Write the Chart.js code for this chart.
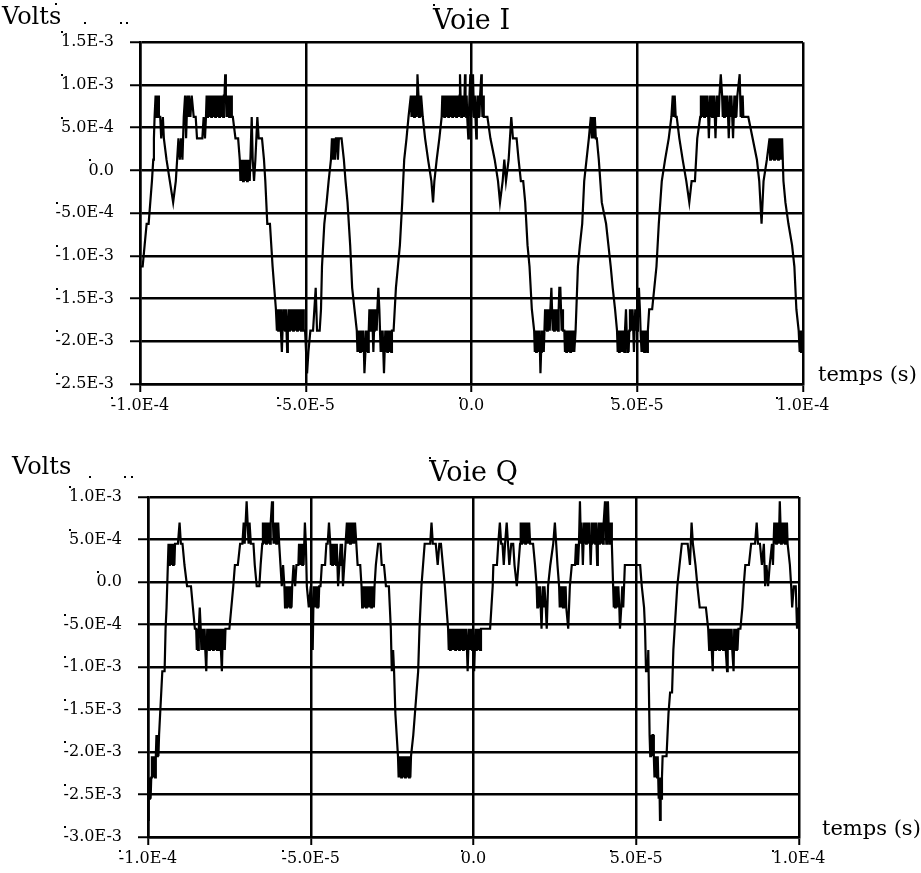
<!DOCTYPE html>
<html><head><meta charset="utf-8">
<script src="https://cdn.jsdelivr.net/npm/chart.js@4.4.1/dist/chart.umd.min.js"></script>
<style>
html,body{margin:0;padding:0;background:#fff;}
#wrap{position:relative;width:921px;height:873px;overflow:hidden;background:#fff;}
canvas{position:absolute;left:0;}
</style></head><body>
<div id="wrap">
<canvas id="cI" width="921" height="430" style="top:0px"></canvas>
<canvas id="cQ" width="921" height="443" style="top:430px"></canvas>
</div>
<script>
// ---- data: [time in microseconds, voltage in millivolts] ----
const xTickValues = [-1.0e-4, -5.0e-5, 0.0, 5.0e-5, 1.0e-4];
const yTickValuesI = [-2.5e-3, -2.0e-3, -1.5e-3, -1.0e-3, -5.0e-4, 0.0, 5.0e-4, 1.0e-3, 1.5e-3];
const yTickValuesQ = [-3.0e-3, -2.5e-3, -2.0e-3, -1.5e-3, -1.0e-3, -5.0e-4, 0.0, 5.0e-4, 1.0e-3];

const voieI = [
[-100.0,-1.125],[-99.2,-1.125],[-98.6,-0.875],[-98.0,-0.625],[-97.4,-0.625],[-96.9,-0.375],[-96.4,-0.125],[-96.0,0.125],[-95.8,0.375],[-95.6,0.625],
[-95.3,0.875],[-95.1,0.625],[-94.9,0.875],[-94.7,0.625],[-94.5,0.875],[-94.3,0.625],[-93.9,0.625],[-93.6,0.375],[-93.1,0.625],[-92.8,0.375],
[-92.0,0.125],[-91.0,-0.125],[-90.0,-0.375],[-89.2,-0.125],[-88.8,0.125],[-88.4,0.375],[-88.0,0.125],[-87.6,0.375],[-87.2,0.125],[-86.8,0.625],
[-86.4,0.875],[-86.1,0.375],[-85.7,0.875],[-85.4,0.625],[-85.2,0.875],[-84.8,0.625],[-84.4,0.875],[-83.8,0.625],[-83.2,0.625],[-82.8,0.375],
[-81.2,0.375],[-80.8,0.625],[-80.4,0.375],
[-80.1,0.625],[-79.9,0.875],[-79.7,0.625],[-79.5,0.875],[-79.3,0.625],[-79.1,0.875],[-78.9,0.625],[-78.7,0.875],[-78.5,0.625],[-78.3,0.875],
[-78.1,0.625],[-77.9,0.875],[-77.7,0.625],[-77.5,0.875],[-77.3,0.625],[-77.1,0.875],[-76.9,0.625],[-76.7,0.875],[-76.5,0.625],[-76.3,0.875],
[-76.1,0.625],[-75.9,0.875],[-75.7,0.625],[-75.5,0.875],[-75.3,0.625],[-75.1,0.875],[-74.9,0.625],[-74.7,0.875],[-74.5,0.875],[-74.3,1.125],
[-74.1,0.875],[-73.9,0.625],[-73.7,0.875],[-73.5,0.625],[-73.3,0.875],[-73.1,0.625],[-72.9,0.875],[-72.7,0.625],[-72.5,0.875],[-72.3,0.625],
[-72.0,0.625],[-71.2,0.375],[-70.4,0.375],
[-69.9,0.125],[-69.7,-0.125],[-69.5,0.125],[-69.3,-0.125],[-69.1,0.125],[-68.9,-0.125],[-68.7,0.125],[-68.5,-0.125],[-68.3,0.125],[-68.1,-0.125],
[-67.9,0.125],[-67.7,-0.125],[-67.5,0.125],[-67.3,-0.125],[-67.1,0.125],[-66.9,-0.125],[-66.7,0.125],
[-66.3,0.625],[-66.0,0.125],[-65.6,-0.125],[-65.2,0.125],[-64.9,0.375],[-64.6,0.625],[-64.2,0.375],[-63.2,0.375],[-62.6,0.125],[-62.2,-0.125],
[-61.6,-0.625],[-60.8,-0.625],[-60.0,-1.125],[-59.5,-1.375],[-59.0,-1.625],[-58.7,-1.875],
[-58.5,-1.625],[-58.3,-1.875],[-58.1,-1.625],[-57.9,-1.875],[-57.7,-1.625],[-57.5,-1.875],[-57.2,-2.125],[-57.0,-1.875],[-56.8,-1.625],[-56.6,-1.875],
[-56.4,-1.625],[-56.2,-1.875],[-56.0,-1.625],[-55.8,-1.875],[-55.6,-2.125],[-55.4,-1.875],[-55.2,-1.625],[-55.0,-1.875],[-54.8,-1.625],[-54.6,-1.875],
[-54.4,-1.625],[-54.2,-1.875],[-54.0,-1.625],[-53.8,-1.875],[-53.6,-1.625],[-53.4,-1.875],[-53.2,-1.625],[-53.0,-1.875],[-52.8,-1.625],[-52.6,-1.875],
[-52.4,-1.625],[-52.2,-1.875],[-52.0,-1.625],[-51.8,-1.875],[-51.6,-1.625],[-51.4,-1.875],[-51.2,-1.625],[-51.0,-1.875],[-50.8,-1.625],[-50.6,-1.875],
[-50.2,-1.875],[-49.6,-2.375],[-49.2,-2.125],[-48.6,-1.875],[-47.8,-1.875],[-47.4,-1.625],[-47.0,-1.375],[-46.6,-1.875],[-45.8,-1.875],[-45.4,-1.625],
[-45.1,-1.125],[-44.4,-0.625],[-43.7,-0.375],[-43.1,-0.125],[-42.4,0.125],[-42.1,0.375],[-41.8,0.125],[-41.5,0.375],[-41.2,0.125],[-40.9,0.375],
[-40.6,0.375],[-40.3,0.125],[-40.0,0.375],[-39.2,0.375],[-38.5,0.125],[-38.0,-0.125],[-37.4,-0.375],[-36.6,-0.875],[-36.0,-1.375],[-35.3,-1.625],
[-34.6,-1.875],
[-34.4,-2.125],[-34.2,-1.875],[-34.0,-2.125],[-33.8,-1.875],[-33.6,-2.125],[-33.4,-1.875],[-33.2,-2.125],[-33.0,-1.875],[-32.8,-2.125],[-32.6,-1.875],
[-32.3,-2.375],[-32.0,-2.125],[-31.8,-1.875],[-31.6,-2.125],[-31.4,-1.875],[-31.2,-2.125],[-31.0,-1.875],[-30.8,-1.625],[-30.6,-1.875],[-30.4,-1.625],
[-30.2,-1.875],[-30.0,-1.625],[-29.8,-1.875],[-29.6,-2.125],[-29.4,-1.875],[-29.2,-1.625],[-29.0,-1.875],[-28.8,-1.625],[-28.6,-1.875],[-28.4,-1.625],
[-28.1,-1.375],[-27.8,-1.625],[-27.6,-1.875],[-27.4,-2.125],[-27.2,-1.875],[-27.0,-2.125],[-26.8,-1.875],[-26.4,-2.375],[-26.2,-2.125],[-26.0,-1.875],
[-25.8,-2.125],[-25.6,-1.875],[-25.4,-2.125],[-25.2,-1.875],[-25.0,-2.125],[-24.8,-1.875],[-24.6,-2.125],[-24.4,-1.875],[-24.2,-2.125],[-24.0,-1.875],
[-23.5,-1.875],[-22.8,-1.375],[-22.2,-1.125],[-21.6,-0.875],[-20.9,-0.375],[-20.3,0.125],[-19.6,0.375],[-19.0,0.625],[-18.3,0.875],[-18.1,0.625],
[-17.9,0.875],[-17.7,0.625],[-17.5,0.875],[-17.3,0.625],[-17.1,0.875],[-16.9,0.625],[-16.7,0.875],[-16.5,0.625],[-16.3,1.125],[-16.0,0.875],
[-15.8,0.625],[-15.6,0.875],[-15.4,0.625],[-15.2,0.875],[-14.7,0.625],[-14.0,0.375],[-13.1,0.125],[-12.1,-0.125],[-11.6,-0.375],[-11.2,-0.125],
[-10.5,0.125],[-9.7,0.375],[-9.0,0.625],
[-8.8,0.875],[-8.6,0.625],[-8.4,0.875],[-8.2,0.625],[-8.0,0.875],[-7.8,0.625],[-7.6,0.875],[-7.4,0.625],[-7.2,0.875],[-7.0,0.625],
[-6.8,0.875],[-6.6,0.625],[-6.4,0.875],[-6.2,0.625],[-6.0,0.875],[-5.8,0.625],[-5.6,0.875],[-5.4,0.625],[-5.2,0.875],[-5.0,0.625],
[-4.8,0.875],[-4.6,0.625],[-4.4,0.875],[-4.2,0.625],[-4.0,0.875],[-3.8,0.625],[-3.6,0.875],[-3.47,1.125],[-3.3,0.875],[-3.1,0.625],
[-2.9,0.875],[-2.7,0.625],[-2.5,0.875],[-2.3,0.625],[-2.1,0.875],[-1.96,1.125],[-1.8,0.875],[-1.6,0.625],[-1.46,0.875],[-1.3,0.625],
[-1.1,0.625],[-0.96,0.375],[-0.8,0.625],[-0.6,0.875],[-0.36,1.125],[-0.2,0.875],[0.0,0.625],[0.2,0.875],[0.45,1.125],[0.6,0.875],
[0.8,0.625],[1.0,0.875],[1.2,0.625],[1.45,0.375],[1.6,0.625],[1.8,0.875],[2.0,0.625],[2.2,0.875],[2.4,0.625],[2.6,0.875],
[2.8,0.875],[2.97,1.125],[3.1,0.875],[3.3,0.625],[3.5,0.875],[3.7,0.625],[4.0,0.625],
[4.8,0.625],[5.7,0.375],[7.0,0.125],[8.0,-0.125],[8.6,-0.375],[9.4,-0.125],[9.9,0.125],[10.4,-0.125],[11.2,0.125],[12.0,0.625],
[12.5,0.375],[13.6,0.375],[14.2,0.125],[14.9,-0.125],[15.6,-0.125],[16.2,-0.375],[16.9,-0.875],[17.5,-1.125],[18.2,-1.625],[18.9,-1.875],
[19.1,-2.125],[19.3,-1.875],[19.5,-2.125],[19.7,-1.875],[19.9,-2.125],[20.1,-1.875],[20.3,-2.125],[20.5,-1.875],[20.8,-2.375],[21.0,-2.125],
[21.2,-1.875],[21.4,-2.125],[21.6,-1.875],[21.8,-2.125],[22.0,-1.875],[22.2,-1.625],[22.4,-1.875],[22.6,-1.625],[22.8,-1.875],[23.0,-1.625],
[23.2,-1.875],[23.4,-1.625],[23.6,-1.875],[23.8,-1.625],[24.1,-1.375],[24.3,-1.625],[24.5,-1.875],[24.7,-1.625],[24.9,-1.875],[25.1,-1.625],
[25.3,-1.875],[25.5,-1.625],[25.7,-1.875],[25.9,-1.625],[26.1,-1.875],[26.3,-1.625],[26.5,-1.375],[26.8,-1.375],[27.0,-1.625],[27.2,-1.875],
[27.4,-1.625],[27.6,-1.875],[28.0,-1.875],[28.2,-2.125],[28.4,-1.875],[28.6,-2.125],[28.8,-1.875],[29.0,-2.125],[29.2,-1.875],[29.4,-2.125],
[29.6,-1.875],[29.8,-2.125],[30.0,-1.875],[30.2,-2.125],[30.4,-1.875],[30.6,-2.125],[30.8,-1.875],[31.0,-2.125],[31.4,-1.875],
[32.1,-1.125],[32.7,-0.875],[33.4,-0.625],[34.0,-0.125],[34.7,0.125],[35.4,0.375],[36.0,0.625],[36.3,0.375],[36.6,0.625],[36.9,0.375],
[37.2,0.625],[37.5,0.375],[37.8,0.375],[38.4,0.125],[39.3,-0.375],[40.6,-0.625],[41.3,-0.875],[42.0,-1.125],[42.6,-1.375],[43.3,-1.625],
[43.9,-1.875],
[44.1,-2.125],[44.3,-1.875],[44.5,-2.125],[44.7,-1.875],[44.9,-2.125],[45.1,-1.875],[45.3,-2.125],[45.5,-1.875],[45.7,-2.125],[45.9,-1.875],
[46.1,-2.125],[46.3,-1.875],[46.6,-1.625],[46.8,-1.875],[47.0,-2.125],[47.2,-1.875],[47.4,-2.125],[47.6,-1.875],[47.8,-1.625],[48.0,-1.875],
[48.2,-1.625],[48.4,-1.875],[48.6,-1.625],[48.8,-1.875],[49.0,-2.125],[49.2,-1.875],[49.4,-1.625],[49.6,-1.875],[49.8,-1.625],[50.0,-1.875],
[50.2,-1.625],[50.5,-1.375],[50.8,-1.625],[51.0,-1.875],[51.3,-2.125],[51.5,-1.875],[51.7,-2.125],[51.9,-1.875],[52.1,-2.125],[52.3,-1.875],
[52.6,-2.125],[52.8,-1.875],[53.0,-2.125],[53.2,-1.875],[53.6,-1.625],
[54.5,-1.625],[55.8,-1.125],[56.5,-0.625],[57.4,-0.125],[58.4,0.125],[59.5,0.375],[60.3,0.625],[60.7,0.875],[61.0,0.625],[61.3,0.875],
[61.6,0.625],[61.9,0.625],[62.7,0.375],[63.7,0.125],[64.8,-0.125],[65.7,-0.375],[66.4,-0.125],[67.4,-0.125],[68.1,0.375],[69.0,0.625],
[69.2,0.875],[69.4,0.625],[69.6,0.875],[69.8,0.625],[70.0,0.875],[70.2,0.625],[70.4,0.875],[70.6,0.625],[70.8,0.875],[71.0,0.625],
[71.2,0.875],[71.6,0.375],[72.0,0.875],[72.2,0.625],[72.4,0.875],[72.6,0.625],[72.8,0.875],[73.0,0.625],[73.2,0.875],[73.6,0.375],
[74.0,0.875],[74.2,0.625],[74.4,0.875],[74.6,0.625],[74.8,0.875],[75.2,1.125],[75.6,0.875],[75.8,0.625],[76.0,0.875],[76.2,0.625],
[76.4,0.875],[76.6,0.625],[76.8,0.875],[77.0,0.625],[77.2,0.875],[77.6,0.375],[78.0,0.875],[78.2,0.625],[78.4,0.875],[78.9,0.375],
[79.3,0.875],[79.5,0.625],[79.7,0.875],[79.9,0.625],[80.2,0.875],[80.9,1.125],[81.2,0.625],[81.4,0.875],[81.6,0.625],[81.8,0.875],
[82.0,0.625],[82.2,0.625],
[83.5,0.625],[84.8,0.375],[86.1,0.125],[86.8,-0.125],[87.5,-0.625],[88.1,-0.125],[89.1,0.125],[89.9,0.375],
[90.1,0.125],[90.3,0.375],[90.5,0.125],[90.7,0.375],[90.9,0.125],[91.1,0.375],[91.3,0.125],[91.5,0.375],[91.7,0.125],[91.9,0.375],
[92.1,0.125],[92.3,0.375],[92.5,0.125],[92.7,0.375],[92.9,0.125],[93.1,0.375],[93.3,0.125],[93.7,0.375],
[94.1,-0.125],[94.7,-0.375],[95.6,-0.625],[96.7,-0.875],[97.4,-1.125],[98.0,-1.625],[98.7,-1.875],[99.0,-2.125],[99.2,-1.875],[99.4,-2.125],
[99.6,-1.875],[99.8,-2.125],[100.0,-1.875]
];

const voieQ = [
[-100.0,-2.80],[-99.8,-2.30],[-99.6,-2.55],[-99.4,-2.30],[-99.2,-2.55],[-99.0,-2.30],[-98.8,-2.05],[-98.6,-2.30],[-98.4,-2.05],[-98.2,-2.30],
[-98.0,-2.05],[-97.8,-2.30],[-97.6,-2.05],[-97.4,-1.80],[-97.2,-2.05],[-97.0,-1.80],[-96.8,-2.05],[-96.6,-1.80],[-96.4,-1.80],[-95.6,-1.05],
[-94.9,-1.05],[-94.6,-0.55],[-94.3,-0.30],[-93.9,0.20],[-93.7,0.45],[-93.5,0.20],[-93.3,0.45],[-93.1,0.20],[-92.9,0.45],[-92.7,0.20],
[-92.5,0.45],[-92.3,0.20],[-92.1,0.45],[-91.9,0.20],[-91.7,0.45],[-91.5,0.45],[-90.8,0.45],[-90.3,0.70],[-89.9,0.45],[-89.4,0.45],
[-88.8,0.20],[-88.0,-0.05],[-86.8,-0.05],[-86.2,-0.30],[-85.6,-0.55],
[-85.2,-0.55],[-85.0,-0.80],[-84.8,-0.55],[-84.6,-0.80],[-84.4,-0.55],[-84.1,-0.30],[-83.8,-0.55],[-83.6,-0.80],[-83.4,-0.55],[-83.2,-0.80],
[-83.0,-0.55],[-82.8,-0.80],[-82.6,-0.55],[-82.4,-0.80],[-82.1,-1.05],[-81.8,-0.55],[-81.6,-0.80],[-81.4,-0.55],[-81.2,-0.80],[-81.0,-0.55],
[-80.8,-0.80],[-80.6,-0.55],[-80.4,-0.80],[-80.2,-0.55],[-80.0,-0.80],[-79.8,-0.55],[-79.6,-0.80],[-79.4,-0.55],[-79.2,-0.80],[-79.0,-0.55],
[-78.8,-0.80],[-78.6,-0.55],[-78.4,-0.80],[-78.2,-0.55],[-78.0,-0.80],[-77.8,-0.55],[-77.6,-0.80],[-77.3,-1.05],[-77.0,-0.55],[-76.8,-0.80],
[-76.6,-0.55],[-76.4,-0.80],[-76.2,-0.55],
[-75.0,-0.55],[-74.4,-0.30],[-73.8,-0.05],[-73.3,0.20],[-72.4,0.20],[-71.7,0.45],[-71.0,0.45],[-70.6,0.70],[-70.3,0.45],[-70.0,0.70],
[-69.7,0.95],[-69.4,0.70],[-69.1,0.45],[-68.8,0.70],[-68.4,0.45],[-67.6,0.45],[-67.2,0.20],[-66.6,-0.05],[-65.8,-0.05],[-65.4,0.20],
[-64.9,0.45],
[-64.7,0.70],[-64.5,0.45],[-64.3,0.70],[-64.1,0.45],[-63.9,0.70],[-63.7,0.45],[-63.5,0.70],[-63.3,0.45],[-63.1,0.70],[-62.9,0.45],
[-62.7,0.70],[-62.5,0.45],[-62.3,0.70],[-61.9,0.95],[-61.6,0.70],[-61.4,0.45],[-61.2,0.70],[-61.0,0.45],[-60.8,0.70],[-60.6,0.45],
[-60.4,0.70],[-60.2,0.45],[-60.0,0.70],[-59.7,0.45],[-59.3,0.20],
[-58.9,-0.05],[-58.5,0.20],[-58.1,-0.05],[-57.9,-0.30],[-57.7,-0.05],[-57.5,-0.30],[-57.3,-0.05],[-57.1,-0.30],[-56.9,-0.05],[-56.7,-0.30],
[-56.5,-0.05],[-56.3,-0.30],[-56.1,-0.05],[-55.9,-0.30],[-55.7,-0.05],[-55.3,0.20],[-54.8,-0.05],[-54.4,0.20],[-53.8,0.20],[-53.6,0.45],
[-53.4,0.20],[-53.2,0.45],[-53.0,0.20],[-52.8,0.45],[-52.6,0.20],[-52.4,0.45],[-52.2,0.20],[-51.8,0.70],[-51.5,0.45],[-51.2,-0.05],
[-50.6,-0.30],[-50.0,-0.05],[-49.7,-0.30],[-49.4,-0.80],[-49.1,-0.05],[-48.8,-0.30],[-48.6,-0.05],[-48.4,-0.30],[-48.2,-0.05],[-48.0,-0.30],
[-47.8,-0.05],[-47.6,-0.30],[-47.4,-0.05],[-47.0,-0.05],[-46.6,0.20],[-45.6,0.20],[-45.2,0.45],[-44.8,0.45],[-44.4,0.70],[-44.0,0.45],
[-43.8,0.20],[-43.6,0.45],[-43.4,0.20],[-43.2,0.45],[-43.0,0.20],[-42.8,0.45],[-42.6,0.20],[-42.4,0.45],[-42.2,0.20],[-42.0,0.45],
[-41.6,-0.05],[-41.2,0.20],[-40.8,0.45],[-40.6,0.20],[-40.4,0.45],[-40.1,-0.05],[-39.7,0.20],[-39.3,0.45],[-38.9,0.70],[-38.7,0.45],
[-38.5,0.70],[-38.3,0.45],[-38.1,0.70],[-37.9,0.45],[-37.7,0.70],[-37.5,0.45],[-37.3,0.70],[-37.1,0.45],[-36.9,0.70],[-36.7,0.45],
[-36.4,0.70],[-36.0,0.45],[-35.6,0.20],[-34.8,0.20],[-34.4,-0.05],[-34.2,-0.30],[-34.0,-0.05],[-33.8,-0.30],[-33.6,-0.05],[-33.4,-0.30],
[-33.2,-0.05],[-33.0,-0.30],[-32.8,-0.05],[-32.6,-0.30],[-32.4,-0.05],[-32.2,-0.30],[-32.0,-0.05],[-31.8,-0.30],[-31.6,-0.05],[-31.4,-0.30],
[-31.2,-0.05],[-31.0,-0.30],[-30.8,-0.05],[-30.6,-0.30],[-30.4,-0.05],[-30.0,0.20],[-29.3,0.45],[-28.6,0.45],[-28.2,0.20],[-27.5,0.20],
[-26.9,-0.05],[-26.0,-0.05],[-25.7,-0.30],[-25.4,-0.55],[-25.1,-1.05],[-24.7,-0.80],[-24.4,-1.05],[-24.0,-1.55],[-23.6,-1.80],[-23.2,-2.05],
[-23.0,-2.30],[-22.8,-2.05],[-22.6,-2.30],[-22.4,-2.05],[-22.2,-2.30],[-22.0,-2.05],[-21.8,-2.30],[-21.6,-2.05],[-21.4,-2.30],[-21.2,-2.05],
[-21.0,-2.30],[-20.8,-2.05],[-20.6,-2.30],[-20.4,-2.05],[-20.2,-2.30],[-20.0,-2.05],[-19.8,-2.30],[-19.6,-2.05],[-19.4,-2.30],[-19.2,-2.05],
[-19.0,-2.05],[-18.5,-1.80],[-18.0,-1.55],[-17.5,-1.30],[-17.0,-1.05],[-16.6,-0.55],[-16.3,-0.30],[-16.0,-0.05],[-15.5,0.20],[-15.0,0.45],
[-13.9,0.45],[-13.3,0.45],[-12.9,0.70],[-12.5,0.45],[-11.6,0.45],[-11.0,0.20],[-10.5,0.45],[-10.0,0.45],[-9.4,0.20],[-8.8,-0.05],
[-8.3,-0.30],[-7.8,-0.55],
[-7.6,-0.80],[-7.4,-0.55],[-7.2,-0.80],[-7.0,-0.55],[-6.8,-0.80],[-6.6,-0.55],[-6.4,-0.80],[-6.2,-0.55],[-6.0,-0.80],[-5.8,-0.55],
[-5.6,-0.80],[-5.4,-0.55],[-5.2,-0.80],[-5.0,-0.55],[-4.8,-0.80],[-4.6,-0.55],[-4.4,-0.80],[-4.2,-0.55],[-4.0,-0.80],[-3.8,-0.55],
[-3.6,-0.80],[-3.4,-0.55],[-3.2,-0.80],[-3.0,-0.55],[-2.8,-0.80],[-2.6,-0.55],[-2.4,-0.80],[-2.2,-0.55],[-1.8,-1.05],[-1.4,-0.55],
[-1.2,-0.80],[-1.0,-0.55],[-0.8,-0.80],[-0.6,-0.55],[-0.4,-0.80],[-0.2,-0.55],[0.2,-1.05],[0.6,-0.55],[0.8,-0.80],[1.0,-0.55],
[1.2,-0.80],[1.4,-0.55],[1.6,-0.80],[1.8,-0.55],[2.0,-0.80],[2.3,-0.55],
[2.6,-0.55],[5.1,-0.55],[5.5,-0.30],[5.9,-0.05],[6.1,0.20],[7.2,0.20],[7.6,0.45],[8.1,0.70],[8.5,0.45],[8.9,0.45],
[9.3,0.20],[9.7,0.45],[10.2,0.70],[10.6,0.45],[11.0,0.20],[11.6,0.45],[12.2,0.45],[12.6,0.20],[13.3,-0.05],[13.8,0.20],
[14.3,0.45],[14.5,0.70],[14.7,0.45],[14.9,0.70],[15.1,0.45],[15.3,0.70],[15.5,0.45],[15.7,0.70],[15.9,0.45],[16.1,0.70],
[16.3,0.45],[16.5,0.70],[16.8,0.45],[17.1,0.70],[17.4,0.45],[17.8,0.45],[18.3,0.45],[18.9,0.20],[19.4,-0.05],[19.6,-0.30],
[19.8,-0.05],[20.1,-0.30],[20.4,-0.05],[20.9,-0.55],[21.3,-0.05],[21.6,-0.30],[21.8,-0.05],[22.2,-0.30],[22.5,-0.55],[22.9,-0.05],
[23.6,0.20],[24.5,0.45],[25.0,0.70],[25.4,0.45],[25.8,0.20],[26.3,-0.05],[26.5,-0.30],[26.8,-0.05],[27.0,-0.30],[27.3,-0.05],
[27.5,-0.30],[27.8,-0.05],[28.0,-0.30],[28.3,-0.05],[28.5,-0.30],[29.1,-0.55],[29.6,-0.05],[30.2,0.20],[31.2,0.20],[31.5,0.45],
[31.7,0.20],[31.9,0.45],[32.1,0.20],[32.4,0.45],[32.7,0.95],[33.0,0.45],[33.2,0.70],[33.4,0.45],[33.6,0.20],[33.8,0.45],
[34.0,0.70],[34.2,0.45],[34.4,0.70],[34.6,0.45],[34.8,0.70],[35.0,0.45],[35.2,0.70],[35.4,0.45],[35.6,0.70],[35.8,0.45],
[36.0,0.20],[36.2,0.45],[36.4,0.70],[36.6,0.45],[36.8,0.70],[37.0,0.45],[37.2,0.70],[37.4,0.45],[37.6,0.70],[37.8,0.45],
[38.0,0.20],[38.2,0.45],[38.4,0.70],[38.6,0.45],[38.8,0.70],[39.0,0.45],[39.2,0.70],[39.4,0.45],[39.6,0.70],[39.8,0.45],
[40.0,0.70],[40.4,0.95],[40.6,0.70],[40.8,0.45],[41.0,0.70],[41.3,0.95],[41.5,0.70],[41.7,0.45],[41.9,0.70],[42.1,0.45],
[42.3,0.70],[42.5,0.45],[42.9,-0.05],[43.1,-0.30],[43.3,-0.05],[43.5,-0.30],[43.7,-0.05],[43.9,-0.30],[44.1,-0.05],[44.3,-0.30],
[44.5,-0.05],[44.8,-0.30],[45.0,-0.55],[45.4,-0.30],[45.7,-0.05],[46.0,-0.30],[46.5,0.20],[48.0,0.20],[49.5,0.20],[51.2,0.20],
[51.7,-0.05],[52.4,-0.30],[52.7,-0.55],[53.0,-1.05],[53.5,-1.05],[53.7,-0.80],[54.1,-1.80],[54.3,-2.05],[54.5,-1.80],[54.7,-2.05],
[55.0,-1.80],[55.2,-1.80],[55.4,-2.05],[55.6,-2.30],[55.8,-2.05],[56.0,-2.30],[56.2,-2.05],[56.4,-2.30],[56.6,-2.05],[56.9,-2.55],
[57.1,-2.30],[57.3,-2.80],[57.5,-2.30],[57.7,-2.55],[57.9,-2.30],[58.1,-2.05],[58.7,-2.05],[59.3,-2.05],[59.9,-1.55],[60.4,-1.30],
[61.0,-1.30],[61.4,-0.80],[61.8,-0.55],[62.2,-0.30],[62.6,-0.05],[63.3,0.20],[64.0,0.45],[65.0,0.45],[65.8,0.45],[66.5,0.20],
[67.0,0.70],[67.4,0.45],[68.2,0.20],[68.8,-0.05],[69.5,-0.30],[70.5,-0.30],[71.4,-0.30],[72.1,-0.55],[72.4,-0.80],[72.6,-0.55],
[72.8,-0.80],[73.0,-0.55],[73.2,-0.80],[73.5,-1.05],[73.7,-0.55],[73.9,-0.80],[74.1,-0.55],[74.3,-0.80],[74.5,-0.55],[74.7,-0.80],
[74.9,-0.55],[75.1,-0.80],[75.3,-0.55],[75.5,-0.80],[75.7,-0.55],[75.9,-0.80],[76.1,-0.55],[76.3,-0.80],[76.5,-0.55],[76.7,-0.80],
[76.9,-0.55],[77.1,-0.80],[77.3,-0.55],[77.5,-0.80],[77.9,-1.05],[78.1,-0.55],[78.3,-0.80],[78.5,-0.55],[78.7,-0.80],[78.9,-0.55],
[79.1,-0.80],[79.3,-0.55],[79.5,-0.80],[79.9,-1.05],[80.1,-0.55],[80.3,-0.80],[80.5,-0.55],[80.7,-0.80],[80.9,-0.55],[81.1,-0.80],
[81.4,-0.55],[82.0,-0.55],[82.6,-0.30],[83.0,-0.05],[83.5,0.20],[84.6,0.20],[85.3,0.45],[86.5,0.45],[87.0,0.70],[87.4,0.45],
[88.0,0.45],[88.6,0.20],[89.2,0.45],[89.6,-0.05],[90.0,0.20],[90.5,-0.05],[91.0,0.20],[91.7,0.45],[92.0,0.20],[92.2,0.45],
[92.4,0.70],[92.6,0.45],[92.8,0.70],[93.0,0.45],[93.2,0.70],[93.4,0.45],[93.6,0.70],[93.8,0.45],[94.1,0.95],[94.3,0.70],
[94.5,0.45],[94.7,0.70],[94.9,0.45],[95.1,0.70],[95.3,0.45],[95.5,0.70],[95.7,0.45],[95.9,0.70],[96.1,0.45],[96.3,0.70],
[96.5,0.45],[97.2,0.20],[97.6,-0.05],[97.9,-0.30],[98.4,-0.05],[99.0,-0.05],[99.4,-0.55],[99.7,-0.30],[100.0,-0.55]
];

// ---- helpers ----
const FONT = '"DejaVu Serif", serif';
Chart.defaults.font.family = FONT;
Chart.defaults.color = '#000';

function fmt(v) {
  if (Math.abs(v) < 1e-12) return '0.0';
  return v.toExponential(1).replace('e', 'E').replace('E+', 'E');
}

const decoPlugin = {
  id: 'deco',
  afterDraw(chart, args, o) {
    const ctx = chart.ctx, ca = chart.chartArea;
    ctx.save();
    ctx.fillStyle = '#000';
    ctx.textAlign = 'left';
    ctx.textBaseline = 'alphabetic';
    ctx.font = '24px ' + FONT;
    ctx.fillText('Volts', o.voltsX, o.voltsY);
    ctx.font = '21px ' + FONT;
    ctx.fillText('temps (s)', o.tempsX, o.tempsY);
    const dot = (x, y) => ctx.fillRect(Math.round(x) - 1, Math.round(y) - 1, 2, 2);
    o.dots.forEach(d => dot(d[0], d[1]));
    ctx.font = '27px ' + FONT;
    const tw = ctx.measureText(o.title).width;
    dot((ca.left + ca.right) / 2 - tw / 2 + 1, o.titleDotY);
    ctx.font = '16px ' + FONT;
    const ys = chart.scales.y, xs = chart.scales.x;
    ys.ticks.forEach(t => {
      const w = ctx.measureText(fmt(t.value)).width;
      dot(ca.left - 26 - w + 1, ys.getPixelForValue(t.value) - 10);
    });
    xs.ticks.forEach(t => {
      const w = ctx.measureText(fmt(t.value)).width;
      dot(xs.getPixelForValue(t.value) - w / 2 + 1, ca.bottom + 14);
    });
    ctx.restore();
  }
};

function makeChart(id, series, yTicks, g) {
  const pts = series.map(p => ({ x: p[0] * 1e-6, y: p[1] * 1e-3 }));
  return new Chart(document.getElementById(id), {
    type: 'line',
    data: { datasets: [{ data: pts, borderColor: '#000', borderWidth: 2.2, pointRadius: 0, tension: 0, fill: false }] },
    options: {
      responsive: false, animation: false, devicePixelRatio: 1,
      layout: { padding: { left: 0, right: g.padRight, top: 0, bottom: 0 } },
      plugins: {
        legend: { display: false }, tooltip: { enabled: false },
        title: { display: true, text: g.title, fullSize: false, color: '#000',
                 font: { size: 27, weight: 'normal', lineHeight: 1.2 },
                 padding: { top: g.titleTop, bottom: g.titleBottom } },
        deco: { title: g.title, voltsX: g.voltsX, voltsY: g.voltsY, tempsX: g.tempsX, tempsY: g.tempsY,
                dots: g.dots, titleDotY: g.titleDotY }
      },
      scales: {
        x: {
          type: 'linear', min: xTickValues[0], max: xTickValues[xTickValues.length - 1],
          afterBuildTicks: s => { s.ticks = xTickValues.map(v => ({ value: v })); },
          afterFit: s => { s.height = g.xHeight; },
          ticks: { callback: v => fmt(v), font: { size: 16 }, color: '#000', padding: 4, maxRotation: 0, autoSkip: false },
          grid: { color: '#000', lineWidth: 2.5, tickLength: 8, tickColor: '#000', tickWidth: 2 },
          border: { color: '#000', width: 2.5 }
        },
        y: {
          type: 'linear', min: yTicks[0], max: yTicks[yTicks.length - 1],
          afterBuildTicks: s => { s.ticks = yTicks.map(v => ({ value: v })); },
          afterFit: s => { s.width = g.yWidth; },
          ticks: { callback: v => fmt(v), font: { size: 16 }, color: '#000', padding: 16, autoSkip: false },
          grid: { color: '#000', lineWidth: 2.5, tickLength: 10, tickColor: '#000', tickWidth: 2 },
          border: { color: '#000', width: 2.5 }
        }
      }
    },
    plugins: [decoPlugin]
  });
}

makeChart('cI', voieI, yTickValuesI, {
  title: 'Voie I', padRight: 118, yWidth: 140, xHeight: 46, titleTop: 6, titleBottom: 3.8,
  voltsX: 2, voltsY: 24, tempsX: 818, tempsY: 381,
  dots: [[56, 4], [85, 23], [121, 23], [127, 23]], titleDotY: 5
});
makeChart('cQ', voieQ, yTickValuesQ, {
  title: 'Voie Q', padRight: 122, yWidth: 148, xHeight: 36, titleTop: 28, titleBottom: 6.6,
  voltsX: 12, voltsY: 44, tempsX: 822, tempsY: 405,
  dots: [[90, 47], [125, 47], [132, 47]], titleDotY: 28
});
</script>
</body></html>
